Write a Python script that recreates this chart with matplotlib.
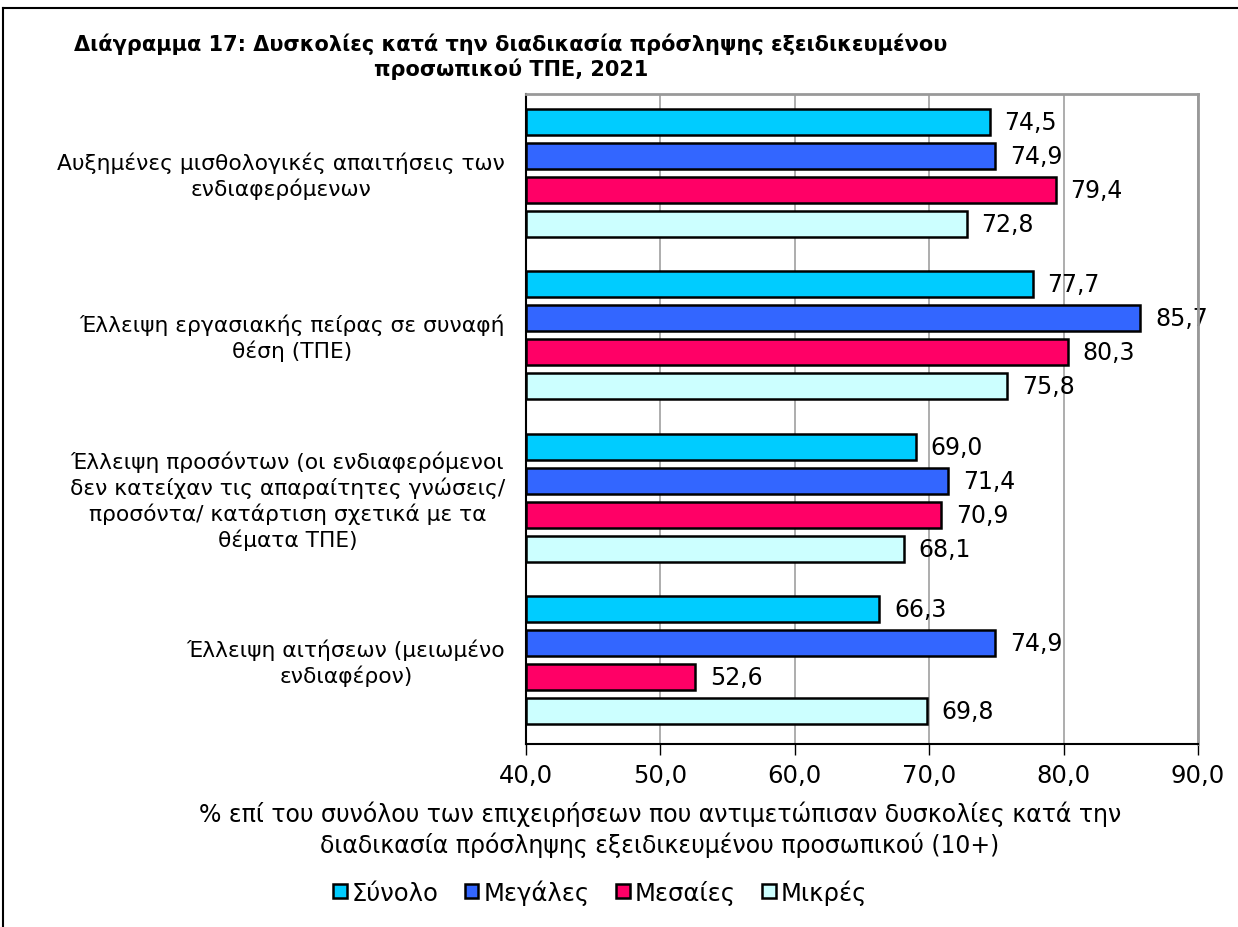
import numpy as np
import matplotlib.pyplot as plt
from matplotlib.patches import Patch

plt.rcParams['font.family'] = 'DejaVu Sans'

categories = ['Αυξημένες μισθολογικές απαιτήσεις των\nενδιαφερόμενων',
              'Έλλειψη εργασιακής πείρας σε συναφή\nθέση (ΤΠΕ)',
              'Έλλειψη προσόντων (οι ενδιαφερόμενοι\nδεν κατείχαν τις απαραίτητες γνώσεις/\nπροσόντα/ κατάρτιση σχετικά με τα\nθέματα ΤΠΕ)',
              'Έλλειψη αιτήσεων (μειωμένο\nενδιαφέρον)']
series_names = ['Σύνολο', 'Μεγάλες', 'Μεσαίες', 'Μικρές']
synolo = [74.5, 77.7, 69.0, 66.3]
megales = [74.9, 85.7, 71.4, 74.9]
mesaies = [79.4, 80.3, 70.9, 52.6]
mikres = [72.8, 75.8, 68.1, 69.8]
colors = ['#00CCFF', '#3366FF', '#FF0066', '#CCFFFF']
xticks = [40, 50, 60, 70, 80, 90]

series = [synolo, megales, mesaies, mikres]

fig = plt.figure(figsize=(12.38, 9.28), dpi=100)
ax = fig.add_axes([526/1238, 1-745/928, 672/1238, 650/928])

group = 163.0
bar_step = 34.0
bar_h = 26.0
y0 = np.arange(len(categories)) * group
for i, (vals, c) in enumerate(zip(series, colors)):
    ys = y0 + 15 + bar_h/2 + i*bar_step
    ax.barh(ys, np.array(vals) - 40, left=40, height=bar_h, color=c,
            edgecolor='black', linewidth=1.8, zorder=3)
    for y, v in zip(ys, vals):
        ax.text(v + 1.1, y, f'{v:.1f}'.replace('.', ','), va='center', ha='left',
                fontsize=17, zorder=2.4)

ax.set_ylim(len(categories)*group, 0)
ax.set_xlim(40, 90)
ax.set_xticks(xticks)
ax.set_xticklabels([f'{t:.1f}'.replace('.', ',') for t in xticks], fontsize=17.5)
ax.set_yticks(y0 + 77)
ax.set_yticklabels(categories, fontsize=15.7, multialignment='center', linespacing=1.25)
ax.tick_params(axis='y', length=0, pad=15)
ax.tick_params(axis='x', length=8, width=1, direction='out', pad=6)
ax.grid(axis='x', color='#A0A0A0', linewidth=1.2, zorder=0)
ax.spines['top'].set_color('#999999')
ax.spines['right'].set_color('#999999')
ax.spines['top'].set_linewidth(2)
ax.spines['right'].set_linewidth(2)
ax.spines['left'].set_linewidth(1.5)
ax.spines['bottom'].set_linewidth(1.5)

fig.text(511/1238, 1-57/928, 'Διάγραμμα 17: Δυσκολίες κατά την διαδικασία πρόσληψης εξειδικευμένου\nπροσωπικού ΤΠΕ, 2021',
         ha='center', va='center', fontsize=15, fontweight='bold', linespacing=1.2)
fig.text(660/1238, 1-830/928, '% επί του συνόλου των επιχειρήσεων που αντιμετώπισαν δυσκολίες κατά την\nδιαδικασία πρόσληψης εξειδικευμένου προσωπικού (10+)',
         ha='center', va='center', fontsize=17, linespacing=1.25)

handles = [Patch(facecolor=c, edgecolor='black', linewidth=1.8) for c in colors]
fig.legend(handles, series_names, loc='center', bbox_to_anchor=(600/1238, 1-893/928),
           ncol=4, frameon=False, fontsize=17.5, handlelength=0.55, handleheight=0.55,
           handletextpad=0.2, columnspacing=1.1)

# chart border (left and top visible)
fig.add_artist(plt.Line2D([3/1238, 3/1238], [0, 1-9/928], color='black', linewidth=1.5))
fig.add_artist(plt.Line2D([3/1238, 1], [1-9/928, 1-9/928], color='black', linewidth=1.5))

fig.savefig('out.png', dpi=100)
